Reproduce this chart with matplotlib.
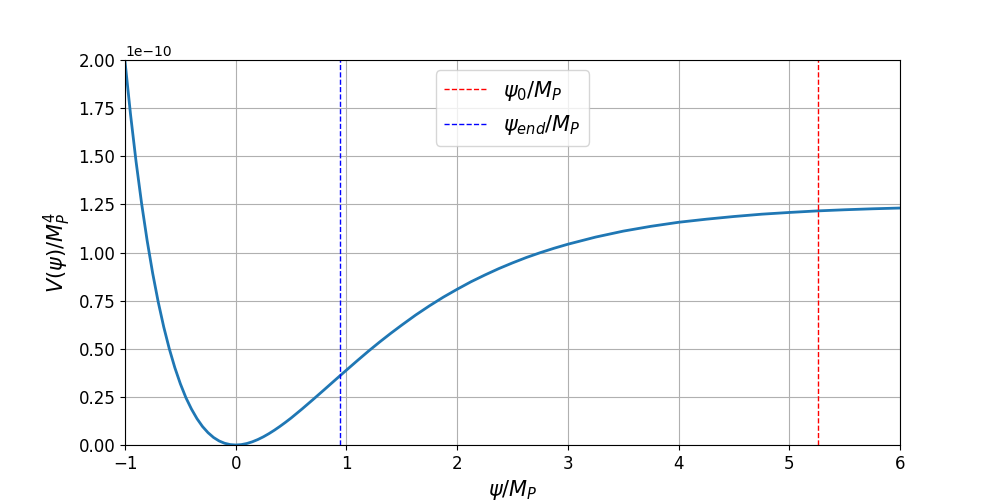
import numpy as np
import matplotlib.pyplot as plt

# --------------------------------------------------------------------------- #
# values (potential in units of 1e-10 M_P^4)
psi = [-1.0, -0.95, -0.9, -0.85, -0.8, -0.75, -0.7, -0.65, -0.6, -0.55, -0.5,
       -0.45, -0.4, -0.35, -0.3, -0.25, -0.2, -0.15, -0.1, -0.05, 0.0,
       0.05, 0.1, 0.15, 0.2, 0.25, 0.3, 0.35, 0.4, 0.45, 0.5,
       0.6, 0.7, 0.8, 0.9, 1.0, 1.1, 1.2, 1.3, 1.4, 1.5,
       1.625, 1.75, 1.875, 2.0, 2.125, 2.25, 2.375, 2.5, 2.625, 2.75, 2.875, 3.0,
       3.25, 3.5, 3.75, 4.0, 4.25, 4.5, 4.75, 5.0, 5.25, 5.5, 5.75, 6.0]
pot = [1.993, 1.717, 1.472, 1.2545, 1.062, 0.892, 0.743, 0.613, 0.500, 0.402, 0.318,
       0.246, 0.187, 0.137, 0.096, 0.064, 0.039, 0.021, 0.009, 0.0022, 0.0,
       0.002, 0.0077, 0.0166, 0.0284, 0.0426, 0.059, 0.0772, 0.097, 0.118, 0.140,
       0.1875, 0.237, 0.2875, 0.3385, 0.389, 0.439, 0.488, 0.535, 0.580, 0.623,
       0.675, 0.723, 0.768, 0.809, 0.848, 0.883, 0.916, 0.946, 0.974, 0.999, 1.022, 1.043,
       1.080, 1.111, 1.136, 1.157, 1.173, 1.187, 1.199, 1.208, 1.216, 1.222, 1.227, 1.231]

psi_0 = 5.26
psi_end = 0.94

# --------------------------------------------------------------------------- #
plt.figure(figsize=(10, 5), dpi=100)
plt.plot(psi, np.array(pot) * 1e-10, linewidth=2)
plt.axvline(psi_0, color='red', linestyle='--', linewidth=1, label=r'$\psi_0/M_P$')
plt.axvline(psi_end, color='blue', linestyle='--', linewidth=1, label=r'$\psi_{end}/M_P$')

plt.xlim(-1, 6)
plt.ylim(0, 2e-10)
plt.xlabel(r'$\psi/M_P$', fontsize=15)
plt.ylabel(r'$V(\psi)/M_P^4$', fontsize=15)
plt.xticks(fontsize=12)
plt.yticks(fontsize=12)
plt.grid(True)
plt.legend(loc='upper center', fontsize=15)

plt.savefig('out.png')
